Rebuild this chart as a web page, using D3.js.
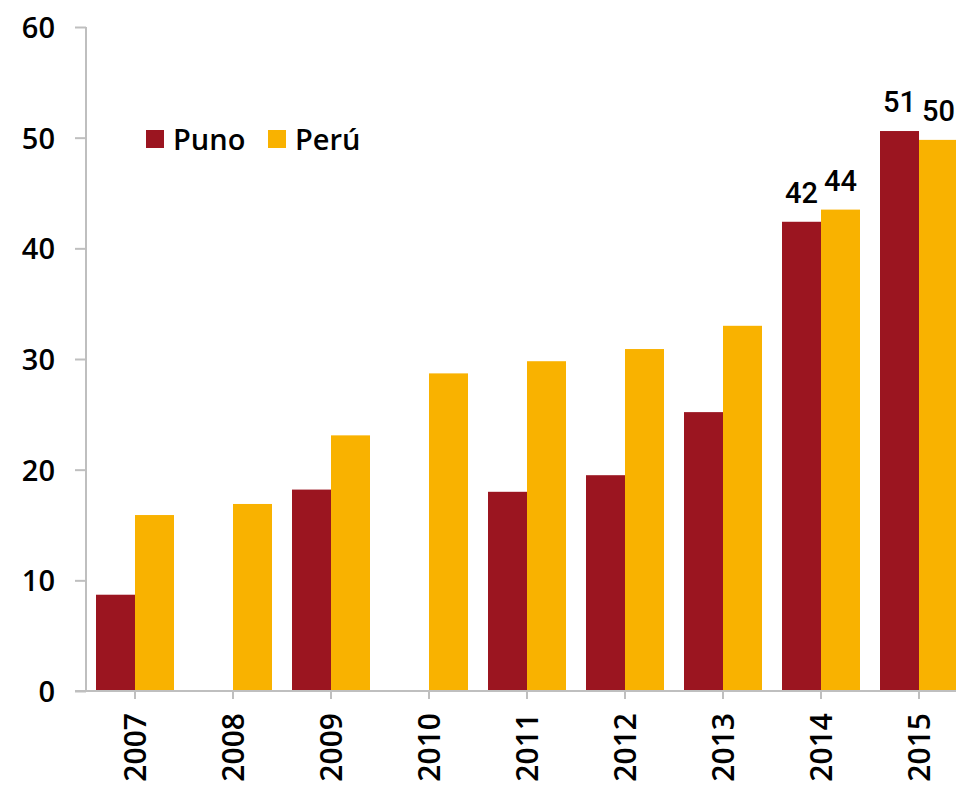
<!DOCTYPE html>
<html><head><meta charset="utf-8">
<script src="https://cdn.jsdelivr.net/npm/d3@7"></script>
<style>
body{margin:0;background:#fff;}
text{font-family:"Open Sans",sans-serif;font-weight:600;fill:#000;}
</style></head>
<body><svg id="c" width="956" height="787"></svg>
<script>
const years = ["2007","2008","2009","2010","2011","2012","2013","2014","2015"];
const puno  = [8.7, null, 18.2, null, 18.0, 19.5, 25.2, 42.4, 50.6];
const peru  = [15.9, 16.9, 23.1, 28.7, 29.8, 30.9, 33.0, 43.5, 49.8];
const seriesNames = ["Puno","Perú"];
const colors = ["#9B1520","#F9B200"];
const yTicks = [0,10,20,30,40,50,60];
const labelIdx = [7,8];

const svg = d3.select("#c");
const x0 = 86, x1 = 968, yTop = 27, yBot = 691;
const x = d3.scaleBand().domain(years).range([x0,x1]).paddingInner(0).paddingOuter(0);
const xs = d3.scaleBand().domain(seriesNames).range([10, x.bandwidth()-10]);
const y = d3.scaleLinear().domain([0,60]).range([yBot,yTop]);

const data = [puno, peru];
data.forEach((arr,si)=>{
  svg.append("g").selectAll("rect").data(arr.map((v,i)=>({v,i})).filter(d=>d.v!=null))
    .join("rect")
    .attr("x",d=>x(years[d.i])+xs(seriesNames[si]))
    .attr("width",xs.bandwidth())
    .attr("y",d=>y(d.v))
    .attr("height",d=>y(0)-y(d.v))
    .attr("fill",colors[si]);
});

// y axis
const ya = svg.append("g").attr("transform",`translate(${x0},0)`)
  .call(d3.axisLeft(y).tickValues(yTicks).tickSize(11).tickPadding(20).tickFormat(d3.format("d")));
ya.select(".domain").attr("stroke","#BFBFBF").attr("stroke-width",2).attr("d",`M0,${yTop}V${yBot}`);
ya.selectAll(".tick line").attr("stroke","#BFBFBF").attr("stroke-width",2);
ya.selectAll(".tick text").attr("font-size",29).style("font-family","'Open Sans'").style("font-weight","600").attr("fill","#000").attr("dy","0.36em");

// x axis
const xa = svg.append("g").attr("transform",`translate(0,${yBot})`)
  .call(d3.axisBottom(x).tickSize(8).tickSizeOuter(0));
xa.select(".domain").attr("stroke","#BFBFBF").attr("stroke-width",2).attr("d",`M${x0-11},0H${x1}`);
xa.selectAll(".tick line").attr("stroke","#BFBFBF").attr("stroke-width",2);
xa.selectAll(".tick text").attr("font-size",30).style("font-family","'Open Sans'").style("font-weight","600")
  .attr("fill","#000").attr("text-anchor","end").attr("dy",null)
  .attr("transform","translate(11,22) rotate(-90)").attr("x",0).attr("y",0);

// value labels
data.forEach((arr,si)=>{
  svg.append("g").selectAll("text").data(labelIdx.map(i=>({i,v:arr[i]})))
    .join("text")
    .attr("x",d=>x(years[d.i])+xs(seriesNames[si])+xs.bandwidth()/2)
    .attr("y",d=>y(d.v)-19)
    .attr("text-anchor","middle").attr("font-size",29)
    .style("font-family","Roboto").style("font-weight","500")
    .text(d=>Math.round(d.v));
});

// legend
const lg = svg.append("g");
const lx = [146, 268];
seriesNames.forEach((n,i)=>{
  lg.append("rect").attr("x",lx[i]).attr("y",130).attr("width",18).attr("height",18).attr("fill",colors[i]);
  lg.append("text").attr("x",lx[i]+27).attr("y",150).attr("font-size",29).text(n);
});
</script></body></html>
